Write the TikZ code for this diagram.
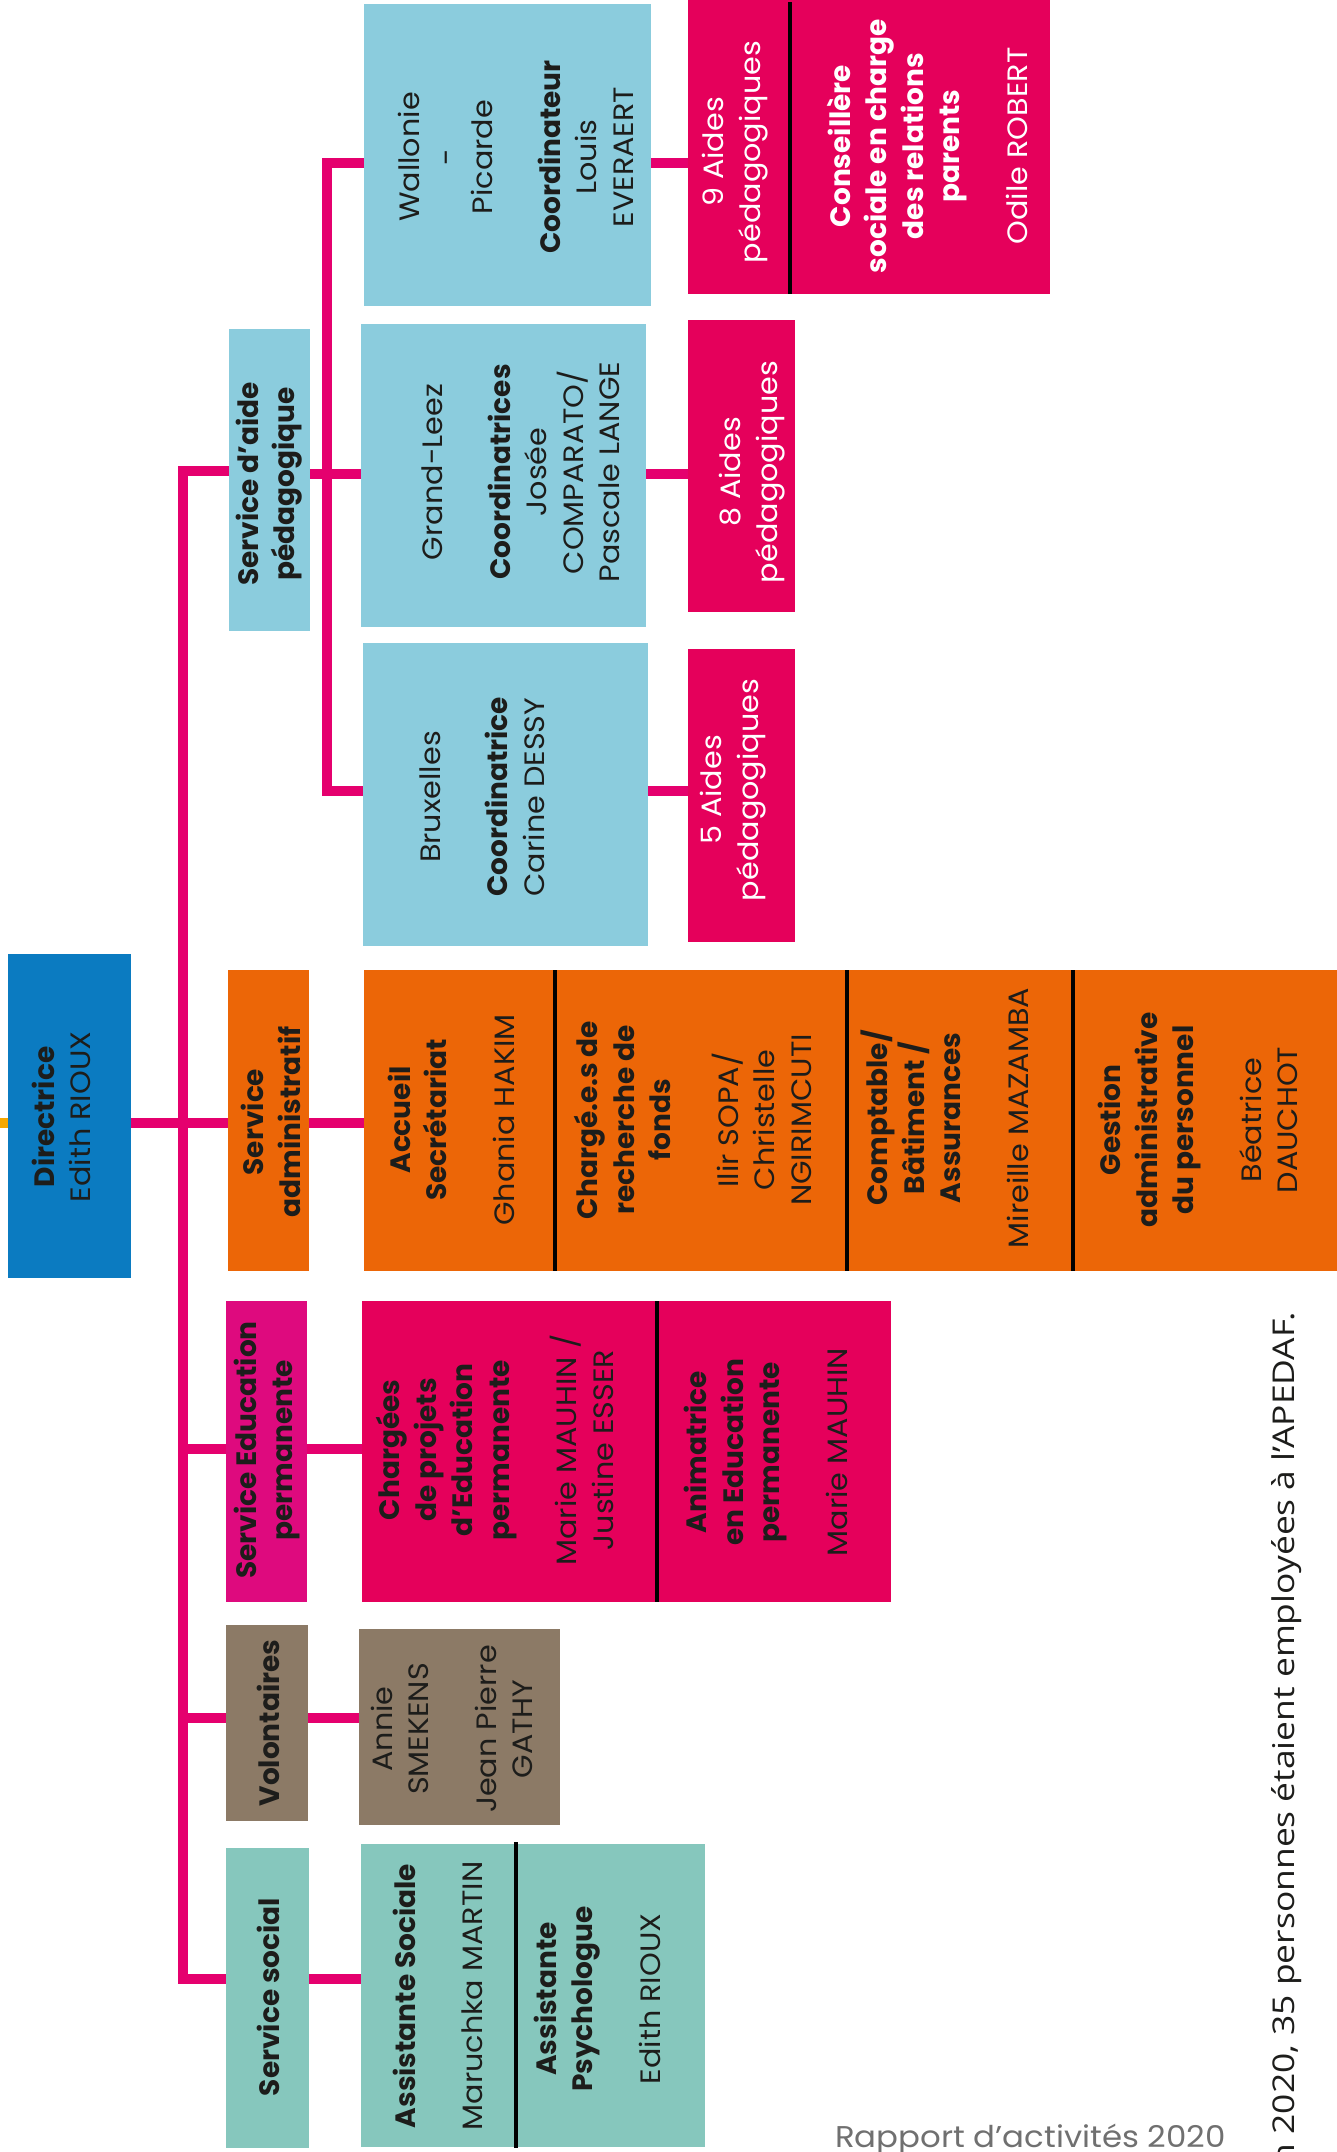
\documentclass[tikz,border=0pt]{standalone}
\usepackage{fontspec}
\setmainfont{Poppins}[UprightFeatures={FakeStretch=1.08}]
\newfontfamily\notefont{Open Sans}[FakeStretch=1.18]
\usetikzlibrary{calc}
\definecolor{cblue}{HTML}{0B7BC1}
\definecolor{corange}{HTML}{EC6607}
\definecolor{cedu}{HTML}{DE0A7E}
\definecolor{cmag}{HTML}{E5005B}
\definecolor{clight}{HTML}{8BCCDD}
\definecolor{cteal}{HTML}{86C7BD}
\definecolor{cbrown}{HTML}{8C7A66}
\definecolor{cpink}{HTML}{E5006E}
\definecolor{cstub}{HTML}{F5A800}
\definecolor{cdark}{HTML}{1D1D1B}
\definecolor{cgrey}{HTML}{707070}
\newcommand\gp{\\[31pt]}
\tikzset{
  box/.style={draw=none, inner sep=0pt, outer sep=0pt, anchor=north west},
  txt/.style={rotate=90, align=center, inner sep=0pt, text=cdark,
    font=\fontsize{28}{36.5}\selectfont},
  wtxt/.style={txt, text=white},
  conn/.style={line width=10pt, draw=cpink, line join=miter},
  stubline/.style={line width=10pt, draw=cstub},
  divider/.style={line width=4pt, draw=black}
}
\newcommand\bx[6]{\node[box, fill=#6, minimum width={#3-#1}, minimum height={#4-#2}] (#5) at (#1,#2) {};}
\begin{document}
\begin{tikzpicture}[x=1pt,y=-1pt]
\useasboundingbox (0,0) rectangle (1337,2152);
% boxes
\bx{8}{954}{131}{1278}{dir}{cblue}
\bx{229}{329}{310}{631}{aide}{clight}
\bx{228}{970}{309}{1271}{admin}{corange}
\bx{226}{1301}{307}{1602}{edu}{cedu}
\bx{226}{1625}{308}{1821}{vol}{cbrown}
\bx{226}{1848}{309}{2148}{soc}{cteal}
\bx{364}{4}{651}{306}{wal}{clight}
\bx{361}{324}{646}{627}{gl}{clight}
\bx{363}{643}{648}{946}{bx}{clight}
\bx{688}{0}{1050}{294}{aneuf}{cmag}
\bx{688}{320}{795}{612}{ahuit}{cmag}
\bx{688}{649}{795}{942}{acinq}{cmag}
\bx{364}{970}{1337}{1271}{admc}{corange}
\bx{362}{1301}{891}{1602}{educ}{cmag}
\bx{359}{1629}{560}{1825}{volc}{cbrown}
\bx{361}{1844}{705}{2147}{socc}{cteal}
% dividers
\draw[divider] (790,2) -- (790,294);
\draw[divider] (555,970) -- (555,1271);
\draw[divider] (847,970) -- (847,1271);
\draw[divider] (1073,970) -- (1073,1271);
\draw[divider] (657,1301) -- (657,1602);
\draw[divider] (516,1842) -- (516,2148);
% connectors
\coordinate (busT) at (183,471);
\coordinate (busB) at (183,1979);
\coordinate (jA) at (183,1123);
\coordinate (jE) at (183,1449);
\coordinate (jV) at (183,1718);
\coordinate (subT) at (327,163);
\coordinate (subM) at (327,474);
\coordinate (subB) at (327,791);
\coordinate (stub) at (0,1123);
\draw[stubline] (stub) -- (dir.west |- stub);
\draw[conn] (aide.west |- busT) -- (busT) -- (busB) -- (soc.west |- busB);
\draw[conn] (dir.east |- jA) -- (admin.west |- jA);
\draw[conn] (jE) -- (edu.west |- jE);
\draw[conn] (jV) -- (vol.west |- jV);
\draw[conn] (admin.east |- jA) -- (admc.west |- jA);
\draw[conn] (edu.east |- jE) -- (educ.west |- jE);
\draw[conn] (vol.east |- jV) -- (volc.west |- jV);
\draw[conn] (soc.east |- busB) -- (socc.west |- busB);
\draw[conn] (aide.east |- subM) -- (gl.west |- subM);
\draw[conn] (wal.west |- subT) -- (subT) -- (subB) -- (bx.west |- subB);
\draw[conn] (wal.east |- subT) -- (aneuf.west |- subT);
\draw[conn] (gl.east |- subM) -- (ahuit.west |- subM);
\draw[conn] (bx.east |- subB) -- (acinq.west |- subB);
% texts
\node[txt] (tdir) at (61.5,1117) {\textbf{Directrice}\\Edith RIOUX};
\node[txt] (taide) at (269,484) {\textbf{Service d’aide}\\\textbf{pédagogique}};
\node[txt] (tadmin) at (271,1122) {\textbf{Service}\\\textbf{administratif}};
\node[txt] (tedu) at (267,1450) {\textbf{Service Education}\\\textbf{permanente}};
\node[txt] (tvol) at (268,1723) {\textbf{Volontaires}};
\node[txt] (tsoc) at (268,1997) {\textbf{Service social}};
\node[txt] (tsoca) at (438,1996) {\textbf{Assistante Sociale}\gp Maruchka MARTIN};
\node[txt] (tsocb) at (597,1999) {\textbf{Assistante}\\\textbf{Psychologue}\gp Edith RIOUX};
\node[txt] (tvola) at (452,1729) {Annie\\SMEKENS\gp Jean Pierre\\GATHY};
\node[txt] (tedua) at (495,1450) {\textbf{Chargées}\\\textbf{de projets}\\\textbf{d’Education}\\\textbf{permanente}\gp Marie MAUHIN /\\Justine ESSER};
\node[txt] (tedub) at (766,1452) {\textbf{Animatrice}\\\textbf{en Education}\\\textbf{permanente}\gp Marie MAUHIN};
\node[txt] (tadma) at (451,1120) {\textbf{Accueil}\\\textbf{Secrétariat}\gp Ghania HAKIM};
\node[txt] (tadmb) at (693,1120) {\textbf{Chargé.e.s de}\\\textbf{recherche de}\\\textbf{fonds}\gp Ilir SOPA/\\Christelle\\NGIRIMCUTI};
\node[txt] (tadmc) at (945,1118) {\textbf{Comptable/}\\\textbf{Bâtiment /}\\\textbf{Assurances}\gp Mireille MAZAMBA};
\node[txt] (tadmd) at (1198,1120) {\textbf{Gestion}\\\textbf{administrative}\\\textbf{du personnel}\gp Béatrice\\DAUCHOT};
\node[txt] (tbx) at (482,797) {Bruxelles\gp\textbf{Coordinatrice}\\Carine DESSY};
\node[txt] (tgl) at (521,472) {Grand-Leez\gp\textbf{Coordinatrices}\\Josée\\COMPARATO/\\Pascale LANGE};
\node[txt] (twal) at (516,157) {Wallonie\\-\\Picarde\gp\textbf{Coordinateur}\\Louis\\EVERAERT};
\node[wtxt] (tacinq) at (733,790) {5 Aides\\pédagogiques};
\node[wtxt] (tahuit) at (752,472) {8 Aides\\pédagogiques};
\node[wtxt] (taneuf) at (735,152) {9 Aides\\pédagogiques};
\node[wtxt] (tcons) at (927,146) {\textbf{Conseillère}\\\textbf{sociale en charge}\\\textbf{des relations}\\\textbf{parents}\gp Odile ROBERT};
\node[rotate=90, anchor=base east, inner sep=0pt, text=cdark, font=\notefont\fontsize{30}{36}\selectfont] (note) at (1294,1312) {n 2020, 35 personnes étaient employées à l’APEDAF.};
\node[anchor=base west, inner sep=0pt, text=cgrey, font=\fontsize{30}{36}\selectfont] (rapport) at (835,2147) {Rapport d’activités 2020};
\end{tikzpicture}
\end{document}
